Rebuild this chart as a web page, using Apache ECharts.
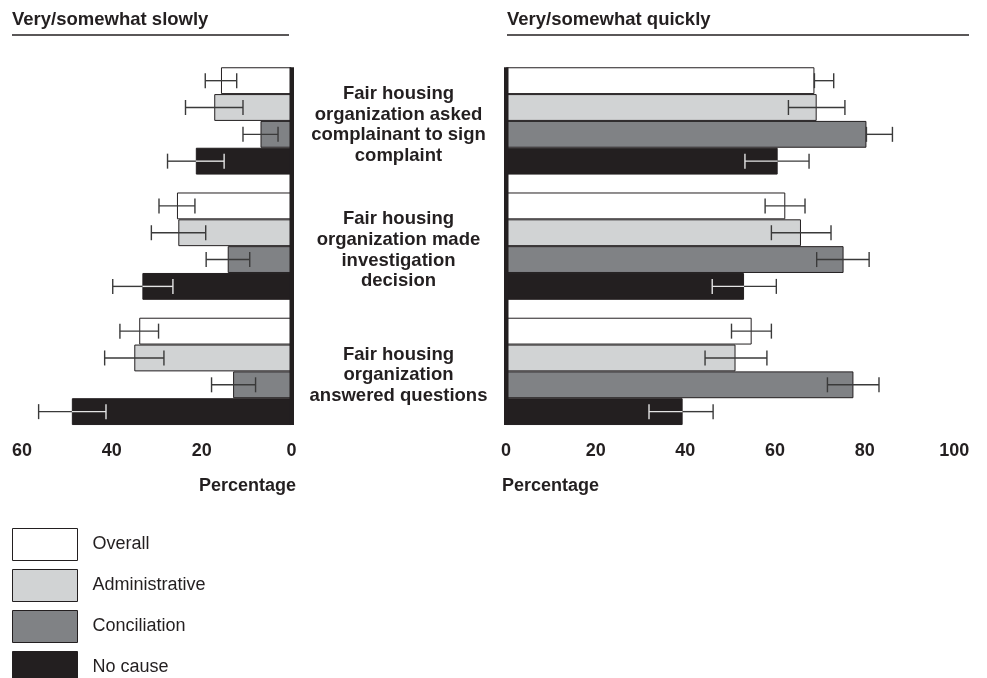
<!DOCTYPE html>
<html>
<head>
<meta charset="utf-8">
<script src="https://cdn.jsdelivr.net/npm/echarts@6/dist/echarts.min.js"></script>
<style>html,body{margin:0;padding:0;background:#fff;}#c{width:987px;height:678px;}</style>
</head>
<body>
<div id="c"></div>
<script>
// ---- data ----
const categories = [
  'Fair housing\norganization asked\ncomplainant to sign\ncomplaint',
  'Fair housing\norganization made\ninvestigation\ndecision',
  'Fair housing\norganization\nanswered questions'
];
const seriesNames = ['Overall', 'Administrative', 'Conciliation', 'No cause'];
const slowTicks = [0, 20, 40, 60];
const quickTicks = [0, 20, 40, 60, 80, 100];

// Very/somewhat slowly (percent) and error-bar ranges [low, high]
const slowOverall = [15.7, 25.5, 33.9];
const slowOverallErr = [[12.2, 19.2], [21.5, 29.5], [29.6, 38.2]];
const slowAdmin = [17.2, 25.2, 35.0];
const slowAdminErr = [[10.8, 23.6], [19.1, 31.2], [28.4, 41.6]];
const slowConcil = [6.9, 14.2, 13.0];
const slowConcilErr = [[3.0, 10.8], [9.3, 19.0], [8.0, 17.8]];
const slowNoCause = [21.3, 33.2, 48.9];
const slowNoCauseErr = [[15.0, 27.6], [26.4, 39.8], [41.3, 56.3]];

// Very/somewhat quickly (percent)
const quickOverall = [68.8, 62.3, 54.8];
const quickOverallErr = [[68.8, 73.1], [57.8, 66.7], [50.3, 59.2]];
const quickAdmin = [69.3, 65.8, 51.2];
const quickAdminErr = [[63.0, 75.6], [59.2, 72.5], [44.4, 58.2]];
const quickConcil = [80.4, 75.3, 77.5];
const quickConcilErr = [[80.4, 86.2], [69.3, 81.0], [71.7, 83.2]];
const quickNoCause = [60.6, 53.1, 39.4];
const quickNoCauseErr = [[53.3, 67.6], [46.0, 60.3], [31.9, 46.2]];

// ---- styling ----
const INK = '#231f20';
const colors = ['#ffffff', '#d1d3d4', '#808285', '#231f20'];
const CAT_GAP = 0.143;
const ERR_COLOR = '#3a3a3a';
const ERR_LIGHT = '#e4e4e4';
const FONT = 'Liberation Sans, Arial, Helvetica, sans-serif';

const slowVals = [slowOverall, slowAdmin, slowConcil, slowNoCause];
const slowErrs = [slowOverallErr, slowAdminErr, slowConcilErr, slowNoCauseErr];
const quickVals = [quickOverall, quickAdmin, quickConcil, quickNoCause];
const quickErrs = [quickOverallErr, quickAdminErr, quickConcilErr, quickNoCauseErr];

function barOffsetY(api, catIdx, k) {
  const c = api.coord([0, catIdx]);
  const band = api.size([0, 1])[1];
  const groupW = band * (1 - CAT_GAP);
  const barW = groupW / 4;
  return c[1] - groupW / 2 + (k + 0.5) * barW;
}

function makeErrRender(k) {
  return function (params, api) {
    const cat = api.value(0);
    const low = api.value(1), high = api.value(2), val = api.value(3);
    const y = barOffsetY(api, cat, k);
    const xl = api.coord([low, cat])[0];
    const xh = api.coord([high, cat])[0];
    const xv = api.coord([val, cat])[0];
    const capH = 7.5;
    const children = [];
    const dark = k === 3;
    function seg(a, b, col) {
      children.push({ type: 'line', shape: { x1: a, y1: y, x2: b, y2: y }, style: { stroke: col, lineWidth: 1.4 } });
    }
    function cap(x, col) {
      children.push({ type: 'line', shape: { x1: x, y1: y - capH, x2: x, y2: y + capH }, style: { stroke: col, lineWidth: 1.4 } });
    }
    if (dark) {
      if (low < val) seg(xl, high < val ? xh : xv, ERR_LIGHT);
      if (high > val) seg(low > val ? xl : xv, xh, ERR_COLOR);
      cap(xl, low < val ? ERR_LIGHT : ERR_COLOR);
      cap(xh, high < val ? ERR_LIGHT : ERR_COLOR);
    } else {
      seg(xl, xh, ERR_COLOR);
      cap(xl, ERR_COLOR);
      cap(xh, ERR_COLOR);
    }
    return { type: 'group', children: children };
  };
}

function axisLineRender(params, api) {
  const first = api.coord([0, 0]);
  const last = api.coord([0, categories.length - 1]);
  const band = api.size([0, 1])[1];
  const half = band * (1 - CAT_GAP) / 2;
  return {
    type: 'rect',
    shape: { x: first[0] - 2, y: first[1] - half, width: 4.5, height: last[1] - first[1] + 2 * half },
    style: { fill: INK }
  };
}

const series = [];
function addPanel(vals, errs, gi) {
  vals.forEach(function (arr, k) {
    series.push({
      name: seriesNames[k], type: 'bar', xAxisIndex: gi, yAxisIndex: gi,
      data: arr, barGap: '0%', barCategoryGap: (CAT_GAP * 100) + '%',
      itemStyle: { color: colors[k], borderColor: INK, borderWidth: 1 },
      emphasis: { disabled: true }, animation: false
    });
  });
  errs.forEach(function (arr, k) {
    series.push({
      type: 'custom', xAxisIndex: gi, yAxisIndex: gi, z: 5,
      renderItem: makeErrRender(k),
      encode: { x: [1, 2], y: 0 },
      data: arr.map(function (e, i) { return [i, e[0], e[1], vals[k][i]]; }),
      silent: true, animation: false
    });
  });
  series.push({
    type: 'custom', xAxisIndex: gi, yAxisIndex: gi, z: 6,
    renderItem: axisLineRender, encode: { x: 1, y: 0 },
    data: [[0, 0]], silent: true, animation: false
  });
}
addPanel(slowVals, slowErrs, 0);
addPanel(quickVals, quickErrs, 1);

const tickLabel = { fontFamily: FONT, fontSize: 18, fontWeight: 'bold', color: INK, margin: 8 };

const option = {
  animation: false,
  backgroundColor: '#fff',
  textStyle: { fontFamily: FONT },
  grid: [
    { left: 22, right: 695.5, top: 58.3, bottom: 244 },
    { left: 506, right: 32.7, top: 58.3, bottom: 244 }
  ],
  xAxis: [
    { type: 'value', gridIndex: 0, inverse: true, min: slowTicks[0], max: slowTicks[slowTicks.length - 1], interval: slowTicks[1] - slowTicks[0],
      axisLine: { show: false }, axisTick: { show: false }, splitLine: { show: false }, axisLabel: tickLabel },
    { type: 'value', gridIndex: 1, min: quickTicks[0], max: quickTicks[quickTicks.length - 1], interval: quickTicks[1] - quickTicks[0],
      axisLine: { show: false }, axisTick: { show: false }, splitLine: { show: false }, axisLabel: tickLabel }
  ],
  yAxis: [
    { type: 'category', gridIndex: 0, data: categories, inverse: true, position: 'right',
      axisLine: { show: false }, axisTick: { show: false },
      axisLabel: {
        fontFamily: FONT, fontSize: 18.5, fontWeight: 'bold', color: INK, margin: 107, align: 'center', lineHeight: 20.6,
        formatter: function (v) { return '{s| }\n' + v; },
        rich: { s: { fontSize: 1, lineHeight: 8 } }
      } },
    { type: 'category', gridIndex: 1, data: categories, inverse: true,
      axisLine: { show: false }, axisTick: { show: false }, axisLabel: { show: false } }
  ],
  legend: {
    orient: 'vertical', left: 12, top: 528, height: 200, padding: 0, itemWidth: 65, itemHeight: 32, itemGap: 8,
    icon: 'rect', data: seriesNames, selectedMode: false,
    itemStyle: { borderColor: INK, borderWidth: 1 },
    textStyle: { fontFamily: FONT, fontSize: 18, color: INK, padding: [0, 0, 0, 10] }
  },
  graphic: [
    { type: 'text', left: 12, top: 10, style: { text: 'Very/somewhat slowly', font: 'bold 18.5px ' + FONT, fill: INK } },
    { type: 'line', shape: { x1: 12, y1: 35, x2: 289, y2: 35 }, style: { stroke: INK, lineWidth: 1.5 } },
    { type: 'text', left: 507, top: 10, style: { text: 'Very/somewhat quickly', font: 'bold 18.5px ' + FONT, fill: INK } },
    { type: 'line', shape: { x1: 507, y1: 35, x2: 969, y2: 35 }, style: { stroke: INK, lineWidth: 1.5 } },
    { type: 'text', right: 987 - 296, top: 477, style: { text: 'Percentage', font: 'bold 18px ' + FONT, fill: INK } },
    { type: 'text', left: 502, top: 477, style: { text: 'Percentage', font: 'bold 18px ' + FONT, fill: INK } }
  ],
  series: series
};

const chart = echarts.init(document.getElementById('c'), null, { renderer: 'canvas' });
chart.setOption(option);
</script>
</body>
</html>
